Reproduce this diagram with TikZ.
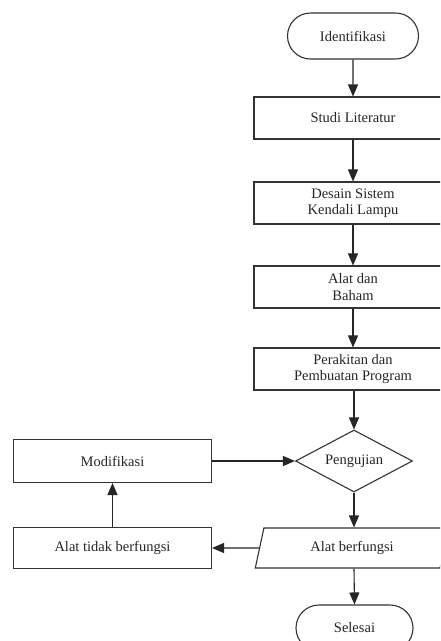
\documentclass[tikz,border=0pt]{standalone}
\usepackage{fontspec}
\setmainfont{Liberation Serif}
\usetikzlibrary{shapes.geometric,shapes.misc,arrows.meta}
\begin{document}
\begin{tikzpicture}[x=1pt,y=-1pt,
  every node/.style={font=\fontsize{14.5}{16.5}\selectfont, text=black!85, align=center},
  procbox/.style={draw=black!80, line width=1.1pt, rectangle, minimum width=198pt, minimum height=42pt, inner sep=0pt},
  termbox/.style={draw=black!80, line width=1.1pt, rounded rectangle, minimum height=46pt, inner sep=0pt},
  decbox/.style={draw=black!80, line width=1.1pt, diamond, shape aspect=1.9, minimum width=117pt, minimum height=62pt, inner sep=0pt},
  iobox/.style={draw=black!80, line width=1.1pt, trapezium, trapezium left angle=73, trapezium right angle=107, trapezium stretches=true, minimum width=194pt, minimum height=40pt, inner sep=0pt},
  conn/.style={draw=black!85, line width=1.1pt, -{Triangle[length=12pt,width=10pt]}}
]
\useasboundingbox (0,0) rectangle (440,641);
\clip (0,0) rectangle (440,641);
\fill[white] (0,0) rectangle (440,641);

\node[termbox, minimum width=131pt] (ident) at (353,36) {Identifikasi};
\node[procbox] (studi) at (353,118) {Studi Literatur};
\node[procbox] (desain) at (353,203) {Desain Sistem\\Kendali Lampu};
\node[procbox] (alat) at (353,287) {Alat dan\\Baham};
\node[procbox] (rakit) at (353,369) {Perakitan dan\\Pembuatan Program};
\node[decbox] (uji) at (354,461) {Pengujian};
\node[procbox, minimum height=43pt] (modif) at (112.5,461) {Modifikasi};
\node[iobox] (fungsi) at (352,548) {Alat berfungsi};
\node[procbox, minimum height=41pt] (tidak) at (112.5,548) {Alat tidak berfungsi};
\node[termbox, minimum width=117pt] (selesai) at (354.5,628) {Selesai};

\draw[conn] (ident) -- (studi);
\draw[conn] (studi) -- (desain);
\draw[conn] (desain) -- (alat);
\draw[conn] (alat) -- (rakit);
\draw[conn] (rakit.south -| uji.north) -- (uji.north);
\draw[conn] (uji.south) -- (uji.south |- fungsi.north);
\draw[conn] (uji.south |- fungsi.south) -- (selesai.north);
\draw[conn] (fungsi.west) -- (tidak.east);
\draw[conn] (tidak) -- (modif);
\draw[conn] (modif.east) -- (uji.west);
\end{tikzpicture}
\end{document}
